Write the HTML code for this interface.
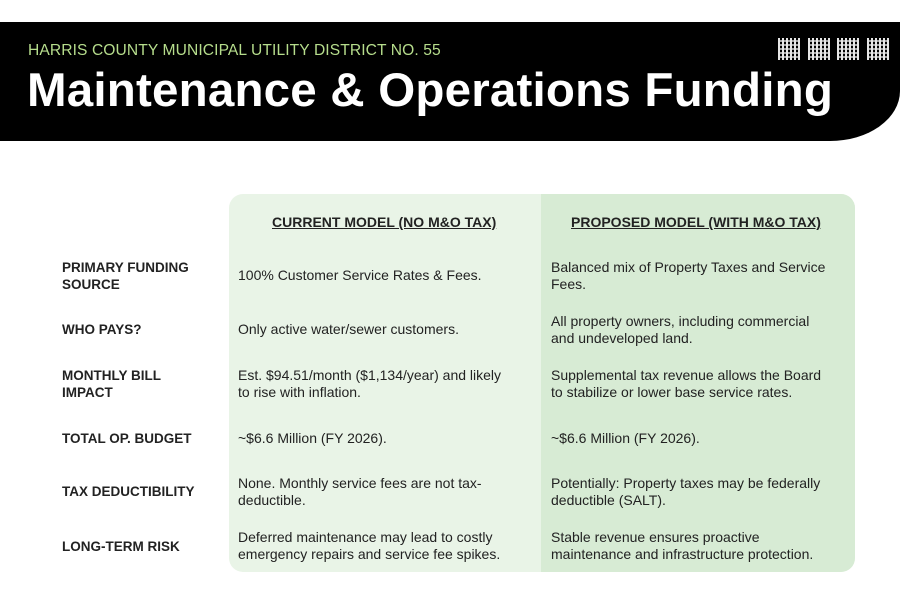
<!DOCTYPE html>
<html><head><style>
body{margin:0;width:900px;height:600px;background:#fff;font-family:"Liberation Sans",sans-serif;position:relative;overflow:hidden}
.hdr{position:absolute;left:0;top:22px;width:900px;height:119px;background:#000;border-bottom-right-radius:70px 50px}
.sub{position:absolute;left:28px;top:42px;color:#b6dd8c;font-size:15.6px;letter-spacing:0.1px}
.ttl{position:absolute;left:27px;top:63px;color:#fff;font-size:47.5px;font-weight:bold;letter-spacing:0.2px}
.qr{position:absolute;top:38px;width:22px;height:22px;background:
repeating-linear-gradient(90deg,#fff 0 2px,#000 2px 4px),#fff;opacity:.9}
.qr::after{content:"";position:absolute;inset:0;background:repeating-linear-gradient(0deg,transparent 0 2px,rgba(255,255,255,.7) 2px 4px)}
.box{position:absolute;left:229px;top:194px;width:626px;height:378px;border-radius:14px;overflow:hidden;background:#e9f4e7}
.right{position:absolute;left:312px;top:0;width:314px;height:100%;background:#d7ebd4}
.h{position:absolute;font-weight:bold;text-decoration:underline;font-size:14px;color:#222;top:20px}
.t{position:absolute;font-size:14px;color:#222;line-height:17px}
.l{position:absolute;left:62px;font-size:13.5px;font-weight:bold;color:#222;line-height:17px}
</style></head><body>
<div class="hdr"></div>
<div class="sub">HARRIS COUNTY MUNICIPAL UTILITY DISTRICT NO. 55</div>
<div class="ttl">Maintenance &amp; Operations Funding</div>
<div class="qr" style="left:778px"></div><div class="qr" style="left:808px"></div><div class="qr" style="left:837px"></div><div class="qr" style="left:867px"></div>
<div class="box"><div class="right"></div>
<div class="h" style="left:43px">CURRENT MODEL (NO M&amp;O TAX)</div>
<div class="h" style="left:342px">PROPOSED MODEL (WITH M&amp;O TAX)</div>
</div>
<div class="l" style="top:259px">PRIMARY FUNDING<br>SOURCE</div>
<div class="l" style="top:321px">WHO PAYS?</div>
<div class="l" style="top:367px">MONTHLY BILL<br>IMPACT</div>
<div class="l" style="top:430px">TOTAL OP. BUDGET</div>
<div class="l" style="top:483px">TAX DEDUCTIBILITY</div>
<div class="l" style="top:538px">LONG-TERM RISK</div>

<div class="t" style="left:238px;top:267px">100% Customer Service Rates &amp; Fees.</div>
<div class="t" style="left:238px;top:321px">Only active water/sewer customers.</div>
<div class="t" style="left:238px;top:367px">Est. $94.51/month ($1,134/year) and likely<br>to rise with inflation.</div>
<div class="t" style="left:238px;top:430px">~$6.6 Million (FY 2026).</div>
<div class="t" style="left:238px;top:475px">None. Monthly service fees are not tax-<br>deductible.</div>
<div class="t" style="left:238px;top:529px">Deferred maintenance may lead to costly<br>emergency repairs and service fee spikes.</div>

<div class="t" style="left:551px;top:259px">Balanced mix of Property Taxes and Service<br>Fees.</div>
<div class="t" style="left:551px;top:313px">All property owners, including commercial<br>and undeveloped land.</div>
<div class="t" style="left:551px;top:367px">Supplemental tax revenue allows the Board<br>to stabilize or lower base service rates.</div>
<div class="t" style="left:551px;top:430px">~$6.6 Million (FY 2026).</div>
<div class="t" style="left:551px;top:475px">Potentially: Property taxes may be federally<br>deductible (SALT).</div>
<div class="t" style="left:551px;top:529px">Stable revenue ensures proactive<br>maintenance and infrastructure protection.</div>
</body></html>
